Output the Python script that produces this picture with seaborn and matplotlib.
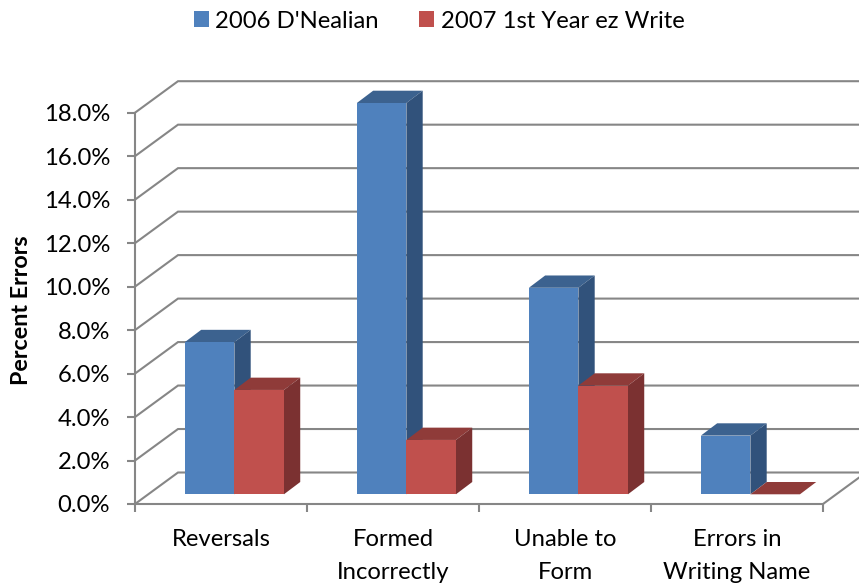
import matplotlib
matplotlib.use("Agg")
import matplotlib.pyplot as plt
from matplotlib.patches import Patch, Polygon
import pandas as pd
import seaborn as sns

categories = ["Reversals", "Formed\nIncorrectly", "Unable to\nForm", "Errors in\nWriting Name"]
series_names = ["2006 D'Nealian", "2007 1st Year ez Write"]
values_2006 = [7.0, 18.0, 9.5, 2.7]
values_2007 = [4.8, 2.5, 5.0, 0.0]
y_ticks = [0, 2, 4, 6, 8, 10, 12, 14, 16, 18]

FRONT = {series_names[0]: "#4F81BD", series_names[1]: "#C0504D"}
TOP = {series_names[0]: "#3C628F", series_names[1]: "#8F3B39"}
SIDE = {series_names[0]: "#31527B", series_names[1]: "#7B3131"}
GRID = "#868686"
FONT = "Lato"

sns.set_style("white")
plt.rcParams["font.family"] = [FONT, "DejaVu Sans"]

W, H = 859, 583
fig = plt.figure(figsize=(W / 100, H / 100), dpi=100)
L, R, B, T = 135, 823, 504, 112.7
ax = fig.add_axes([L / W, 1 - B / H, (R - L) / W, (B - T) / H])

df = pd.DataFrame({
    "category": categories * 2,
    "series": [series_names[0]] * 4 + [series_names[1]] * 4,
    "value": values_2006 + values_2007,
})
sns.barplot(data=df, x="category", y="value", hue="series", palette=FRONT,
            width=0.576, gap=0, errorbar=None, legend=False, ax=ax,
            saturation=1, linewidth=0, zorder=3)
ax.set_xlim(-0.5, 3.5)
ax.set_ylim(0, 18)

px_x = 4 / (R - L)          # data units per pixel
px_y = 18 / (B - T)

# wall and floor depth
wall_dx, wall_dy = 43 * px_x, 31.5 * px_y
for t in y_ticks:
    ax.plot([-0.5, -0.5 + wall_dx, 3.5 + wall_dx], [t, t + wall_dy, t + wall_dy],
            color=GRID, lw=1.5, clip_on=False, zorder=1, solid_joinstyle="miter")
ax.plot([3.5, 3.5 + wall_dx], [0, wall_dy], color=GRID, lw=1.5, clip_on=False, zorder=1)

# bars stand part way into the floor, and have their own depth
shift_x, shift_y = 13.4 * px_x, 9.7 * px_y
bar_dx, bar_dy = 16.3 * px_x, 12.3 * px_y
for i, (name, cont) in enumerate(zip(series_names, ax.containers)):
    for p in cont:
        p.set_x(p.get_x() + shift_x)
        p.set_y(p.get_y() + shift_y)
        p.set_clip_on(False)
        p.set_zorder(3 + 2 * i)
        x0, x1 = p.get_x(), p.get_x() + p.get_width()
        y0, y1 = p.get_y(), p.get_y() + p.get_height()
        ax.add_patch(Polygon([(x0, y1), (x1, y1), (x1 + bar_dx, y1 + bar_dy), (x0 + bar_dx, y1 + bar_dy)],
                             closed=True, fc=TOP[name], ec="none", clip_on=False, zorder=2 + 2 * i))
        ax.add_patch(Polygon([(x1, y0), (x1 + bar_dx, y0 + bar_dy), (x1 + bar_dx, y1 + bar_dy), (x1, y1)],
                             closed=True, fc=SIDE[name], ec="none", clip_on=False, zorder=2 + 2 * i))

sns.despine(ax=ax)
for s in ("left", "bottom"):
    ax.spines[s].set_color(GRID)
    ax.spines[s].set_linewidth(1.5)
    ax.spines[s].set_zorder(8)

ax.set_yticks(y_ticks, [f"{t:.1f}%" for t in y_ticks])
ax.set_xticks([-0.5, 0.5, 1.5, 2.5, 3.5], [""] * 5)
ax.set_xticks([0, 1, 2, 3], categories, minor=True)
ax.tick_params(axis="both", which="major", length=6, width=1.5, color=GRID, left=True, bottom=True)
ax.tick_params(axis="x", which="minor", length=0, pad=18, bottom=False)
ax.tick_params(axis="y", labelsize=17.2, pad=12, labelcolor="black")
ax.tick_params(axis="x", which="minor", labelsize=17.2, labelcolor="black")
for lab in ax.get_xticklabels(minor=True):
    lab.set_linespacing(1.72)
    lab.set_verticalalignment("top")

ax.set_xlabel("")
ax.set_ylabel("")
fig.text(22 / W, 1 - 310 / H, "Percent Errors", rotation=90, ha="center", va="center",
         fontsize=16.8, fontweight="bold", color="black")

handles = [Patch(fc=FRONT[n], ec="none", label=n) for n in series_names]
fig.legend(handles=handles, loc="center", bbox_to_anchor=(439 / W, 1 - 21 / H), ncol=2,
           frameon=False, fontsize=17.2, handlelength=0.63, handleheight=0.63, handletextpad=0.27,
           columnspacing=1.7, labelcolor="black")

fig.savefig("out.png", dpi=100)
